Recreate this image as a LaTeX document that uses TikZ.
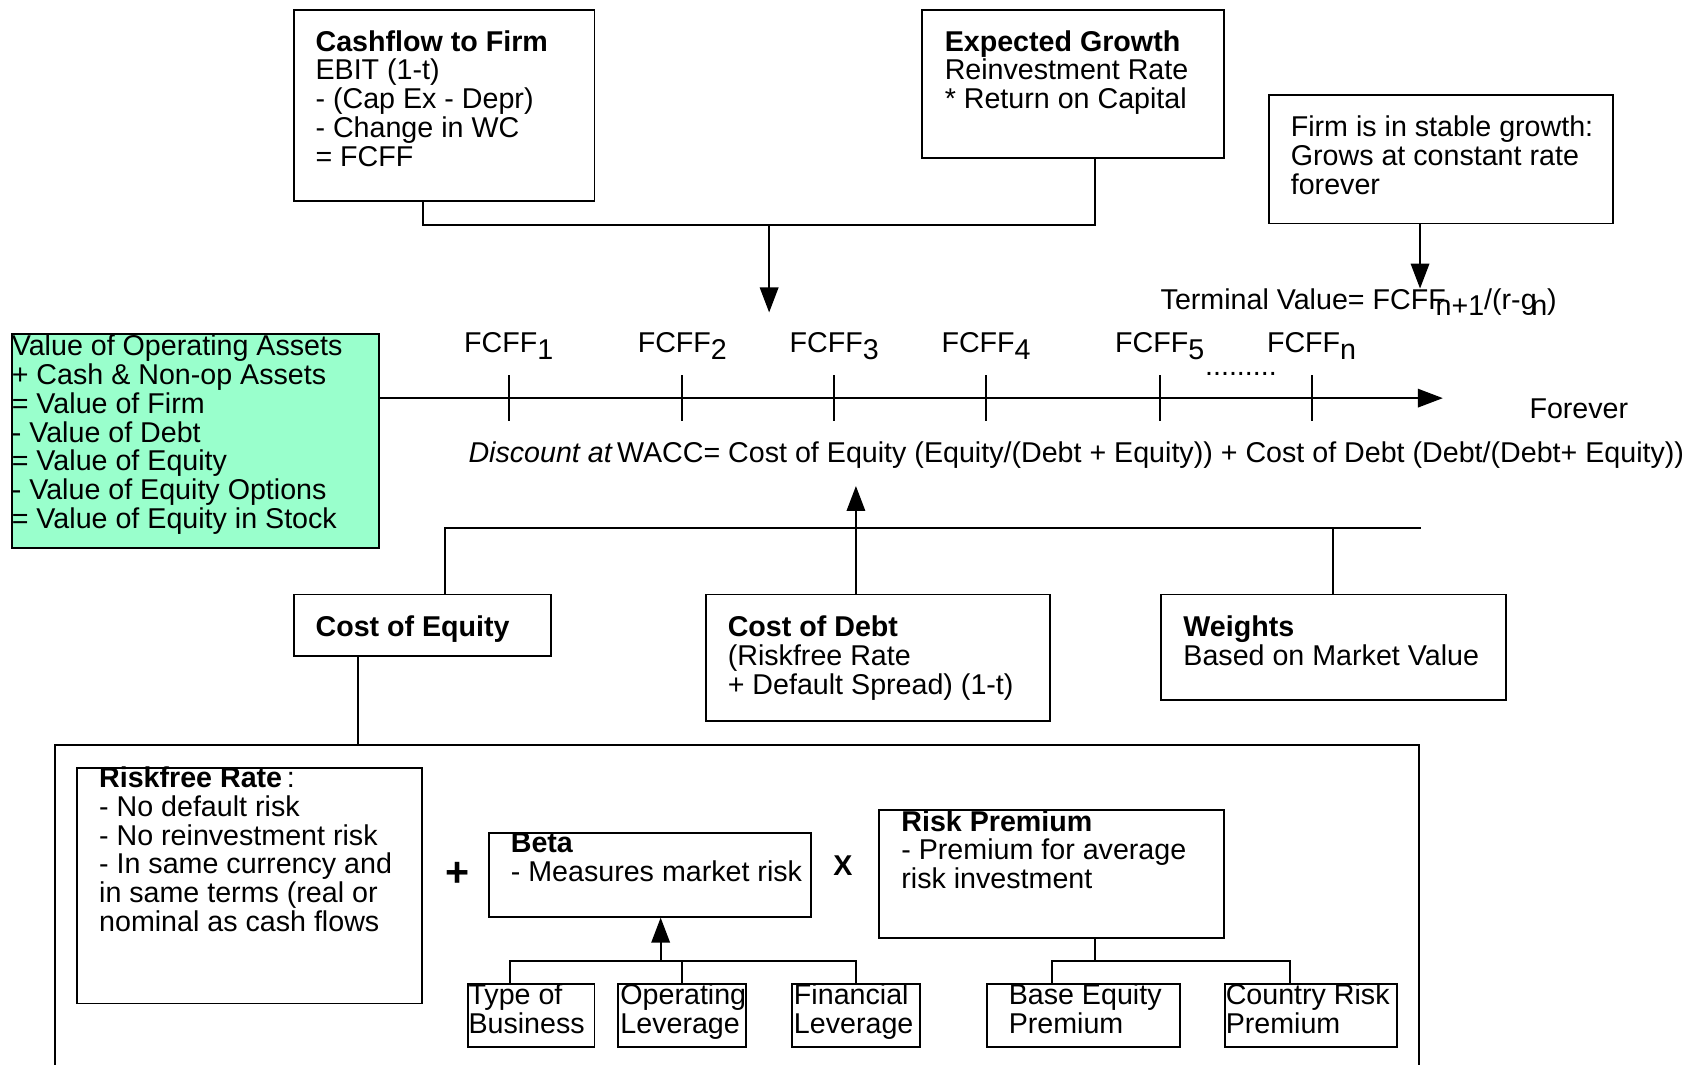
\documentclass[tikz,border=0pt]{standalone}
\usepackage{fontspec}
\setmainfont{Liberation Sans}
\usetikzlibrary{positioning,fit,arrows.meta}
\definecolor{mintgreen}{HTML}{99FFCC}
\newcommand{\fs}{\fontsize{13.2}{13.25}\selectfont}
\newcommand{\dropsub}[1]{\raisebox{-3pt}{#1}}

\begin{document}
\begin{tikzpicture}[
    x=0.5pt, y=-0.5pt,
    line width=0.9pt,
    box/.style={draw, inner sep=0pt},
    txt/.style={inner sep=0pt, anchor=north west, align=left, font=\fs},
    lbl/.style={inner sep=0pt, anchor=base, font=\fs},
    sign/.style={inner sep=0pt, font=\fs\bfseries},
    arr/.style={-{Triangle[length=11.5pt, width=8.5pt]}}
]
    \useasboundingbox (0,0) rectangle (1568,981);

    % Top boxes
    \node[box, fit={(271,9) (548,185)}] (cashflow) {};
    \node[txt] (cashflowtxt) at (290,27) {\textbf{Cashflow to Firm}\\EBIT (1-t)\\- (Cap Ex - Depr)\\- Change in WC\\= FCFF};
    \node[box, fit={(850,9) (1128,146)}] (growth) {};
    \node[txt] (growthtxt) at (870,27) {\textbf{Expected Growth}\\Reinvestment Rate\\* Return on Capital};
    \node[box, fit={(1170,88) (1487,206)}] (stable) {};
    \node[txt] (stabletxt) at (1189,106) {Firm is in stable growth:\\Grows at constant rate\\forever};

    \coordinate (cfjoin) at (390,207);
    \coordinate (gjoin) at (1009,207);
    \coordinate (tvjoin) at (709,207);
    \coordinate (tvtip) at (709,288);
    \coordinate (stabletip) at (1309,266);
    \draw (cashflow.south -| cfjoin) -- (cfjoin) -- (gjoin) -- (growth.south -| gjoin);
    \draw[arr] (tvjoin) -- (tvtip);
    \draw[arr] (stable.south -| stabletip) -- (stabletip);
    \node[txt] (terminal) at (1069,265) {Terminal Value= FCFF\kern-4.7pt\dropsub{n+1}/(r-g\kern-2.5pt\dropsub{n})};

    % Value of firm and timeline
    \node[box, fill=mintgreen, fit={(11,308) (349,505)}] (firmvalue) {};
    \node[txt] (firmvaluetxt) at (10,308) {Value of Operating Assets\\+ Cash \& Non-op Assets\\= Value of Firm\\- Value of Debt\\= Value of Equity\\- Value of Equity Options\\= Value of Equity in Stock};

    \coordinate (axisend) at (1330,367);
    \draw[arr] (firmvalue.east |- axisend) -- (axisend);
    \foreach \x/\idx in {469/1, 629/2, 769/3, 909/4, 1069/5, 1209/n} {
        \draw (\x,346) -- (\x,388);
        \node[lbl] (fcff\idx) at (\x,325) {FCFF\dropsub{\idx}};
    }
    \node[txt, anchor=base west] (dots) at (1110,346) {.........};
    \node[txt] (forever) at (1409,367) {Forever};
    \node[txt] (wacc) at (431,406) {\textit{Discount at}\kern2pt WACC= Cost of Equity (Equity/(Debt + Equity)) + Cost of Debt (Debt/(Debt+ Equity))};

    % WACC inputs
    \node[box, fit={(271,548) (508,605)}] (equity) {};
    \node[txt] (equitytxt) at (290,567) {\textbf{Cost of Equity}};
    \node[box, fit={(651,548) (968,665)}] (debt) {};
    \node[txt] (debttxt) at (670,567) {\textbf{Cost of Debt}\\(Riskfree Rate\\+ Default Spread) (1-t)};
    \node[box, fit={(1070,548) (1388,645)}] (weights) {};
    \node[txt] (weightstxt) at (1090,567) {\textbf{Weights}\\Based on Market Value};

    \coordinate (wleft) at (410,487);
    \coordinate (wright) at (1310,487);
    \coordinate (wacctip) at (789,448);
    \draw (equity.north -| wleft) -- (wleft) -- (wright);
    \draw (weights.north) -- (weights.north |- wleft);
    \draw[arr] (debt.north -| wacctip) -- (wacctip);

    % Cost of equity parts
    \node[box, fit={(51,687) (1308,1010)}] (capm) {};
    \coordinate (eqdrop) at (330,650);
    \draw (equity.south -| eqdrop) -- (capm.north -| eqdrop);

    \node[box, fit={(71,708) (389,925)}] (riskfree) {};
    \node[txt] (riskfreetxt) at (90.5,706) {\textbf{Riskfree Rate}\,:\\- No default risk\\- No reinvestment risk\\- In same currency and\\in same terms (real or\\nominal as cash flows};
    \node[sign, font=\fontsize{19}{19}\selectfont\bfseries] (plus) at (422,806) {+};
    \node[box, fit={(451,768) (748,845)}] (beta) {};
    \node[txt] (betatxt) at (470,767) {\textbf{Beta}\\- Measures market risk};
    \node[sign] (times) at (777,798) {X};
    \node[box, fit={(810,747) (1128,865)}] (riskprem) {};
    \node[txt] (riskpremtxt) at (830,746) {\textbf{Risk Premium}\\- Premium for average\\risk investment};

    % Beta drivers
    \node[box, fit={(431,907) (548,965)}] (typebiz) {};
    \node[txt] (typebiztxt) at (431,906) {Type of\\Business};
    \node[box, fit={(570,907) (688,965)}] (oplev) {};
    \node[txt] (oplevtxt) at (571,906) {Operating\\Leverage};
    \node[box, fit={(730,907) (848,965)}] (finlev) {};
    \node[txt] (finlevtxt) at (731,906) {Financial\\Leverage};

    \coordinate (bjoin) at (609,886);
    \coordinate (bleft) at (470,886);
    \draw[arr] (bjoin) -- (beta.south -| bjoin);
    \draw (typebiz.north -| bleft) -- (bleft) -| (finlev.north);
    \draw (oplev.north) -- (oplev.north |- bjoin);

    % Premium drivers
    \node[box, fit={(910,907) (1088,965)}] (baseeq) {};
    \node[txt] (baseeqtxt) at (929,906) {Base Equity\\Premium};
    \node[box, fit={(1129,907) (1288,965)}] (country) {};
    \node[txt] (countrytxt) at (1129,906) {Country Risk\\Premium};

    \coordinate (rpjoin) at (1009,886);
    \coordinate (rpleft) at (970,886);
    \coordinate (rpright) at (1189,886);
    \draw (riskprem.south -| rpjoin) -- (rpjoin);
    \draw (baseeq.north -| rpleft) -- (rpleft) -- (rpright) -- (country.north -| rpright);
\end{tikzpicture}
\end{document}
